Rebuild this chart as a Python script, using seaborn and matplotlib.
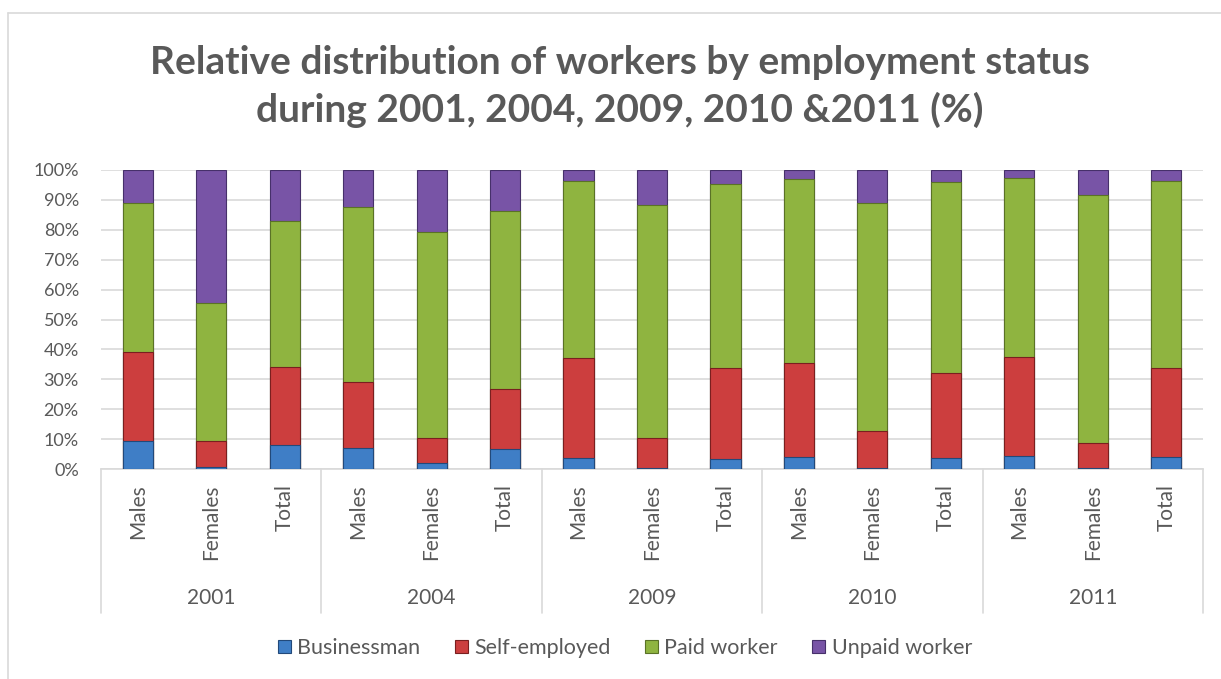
import numpy as np
import pandas as pd
import matplotlib
matplotlib.use("Agg")
import matplotlib.pyplot as plt
from matplotlib.lines import Line2D
from matplotlib.patches import Patch
import seaborn as sns

# ---- data (percent of workers) ----
years = ["2001", "2004", "2009", "2010", "2011"]
groups = ["Males", "Females", "Total"]
statuses = ["Businessman", "Self-employed", "Paid worker", "Unpaid worker"]

businessman = [9.5, 0.6, 7.9, 7.1, 2.1, 6.6, 3.8, 0.4, 3.4, 4.1, 0.4, 3.8, 4.4, 0.4, 4.0]
self_employed = [29.7, 8.6, 26.1, 22.1, 8.4, 20.1, 33.2, 9.9, 30.4, 31.2, 12.3, 28.4, 33.1, 8.4, 29.8]
paid_worker = [49.7, 46.3, 48.8, 58.3, 68.8, 59.7, 59.3, 78.0, 61.5, 61.7, 76.2, 63.8, 59.7, 82.8, 62.5]
unpaid_worker = [11.1, 44.5, 17.2, 12.5, 20.7, 13.6, 3.7, 11.7, 4.7, 3.0, 11.1, 4.0, 2.8, 8.4, 3.7]

colors = {
    "Businessman": "#3f7ec6",
    "Self-employed": "#cc3e3e",
    "Paid worker": "#8fb440",
    "Unpaid worker": "#7854a6",
}
edge_colors = {
    "Businessman": "#22497a",
    "Self-employed": "#7a1f1f",
    "Paid worker": "#5a7226",
    "Unpaid worker": "#46306a",
}

TEXT = "#595959"
GRID = "#d9d9d9"

# ---- tidy frame with cumulative heights for stacking ----
keys = [f"{y}|{g}" for y in years for g in groups]
df = pd.DataFrame({
    "key": keys,
    "Businessman": businessman,
    "Self-employed": self_employed,
    "Paid worker": paid_worker,
    "Unpaid worker": unpaid_worker,
})
cum = df[statuses].cumsum(axis=1)

sns.set_theme(style="white")
plt.rcParams["font.family"] = ["Lato", "DejaVu Sans"]

fig = plt.figure(figsize=(12.21, 6.79), dpi=100)
W, H = 1221, 679
ax = fig.add_axes([101 / W, 1 - 469 / H, 1102 / W, 299 / H])

# draw from the tallest cumulative layer down so each segment shows
for s in reversed(statuses):
    sns.barplot(
        x=df["key"], y=cum[s], order=keys, ax=ax,
        color=colors[s], saturation=1, width=0.41, errorbar=None,
        edgecolor=edge_colors[s], linewidth=0.8, zorder=3,
    )

ax.set_ylim(0, 100)
ax.set_xlim(-0.5, len(keys) - 0.5)
ax.set_yticks(np.arange(0, 101, 10))
ax.set_yticklabels([f"{v}%" for v in range(0, 101, 10)], fontsize=13, color=TEXT)
ax.yaxis.grid(True, color=GRID, linewidth=1.2, zorder=0)
ax.set_axisbelow(True)
ax.set_xlabel("")
ax.set_ylabel("")
ax.set_xticks(range(len(keys)))
ax.set_xticklabels([g for _ in years for g in groups], rotation=90,
                   fontsize=15, color=TEXT, va="top", ha="center")
ax.tick_params(axis="x", length=0, pad=11)
ax.tick_params(axis="y", length=0, pad=16)
for side in ["left", "right", "top"]:
    ax.spines[side].set_visible(False)
ax.spines["bottom"].set_color(GRID)
ax.spines["bottom"].set_linewidth(1.2)

# year group separators and labels under the category labels
trans = ax.get_xaxis_transform()
sep_depth = -(613 - 469) / 299
for i in range(len(years) + 1):
    x = i * 3 - 0.5
    ax.add_line(Line2D([x, x], [0, sep_depth], transform=trans, color=GRID,
                       linewidth=1.2, clip_on=False))
for i, y in enumerate(years):
    ax.text(i * 3 + 1, -(598 - 469) / 299, y, transform=trans, ha="center",
            va="center", fontsize=15, color=TEXT)

# title
fig.text(620 / W, 1 - 62 / H, "Relative distribution of workers by employment status",
         ha="center", va="center", fontsize=28, fontweight="bold", color=TEXT)
fig.text(620 / W, 1 - 110 / H, "during 2001, 2004, 2009, 2010 &2011 (%)",
         ha="center", va="center", fontsize=28, fontweight="bold", color=TEXT)

# legend
handles = [Patch(facecolor=colors[s], edgecolor=edge_colors[s], linewidth=0.8) for s in statuses]
fig.legend(handles, statuses, loc="center", bbox_to_anchor=(625 / W, 1 - 648 / H),
           ncol=4, frameon=False, fontsize=15.5, labelcolor=TEXT,
           handlelength=0.6, handleheight=0.6, handletextpad=0.3, columnspacing=1.6)

# chart-area frame
fig.add_artist(Line2D([8 / W, 8 / W], [0, 1 - 13 / H], transform=fig.transFigure,
                      color=GRID, linewidth=1.2))
fig.add_artist(Line2D([8 / W, 1], [1 - 13 / H, 1 - 13 / H], transform=fig.transFigure,
                      color=GRID, linewidth=1.2))

fig.savefig("out.png", dpi=100, facecolor="white")
